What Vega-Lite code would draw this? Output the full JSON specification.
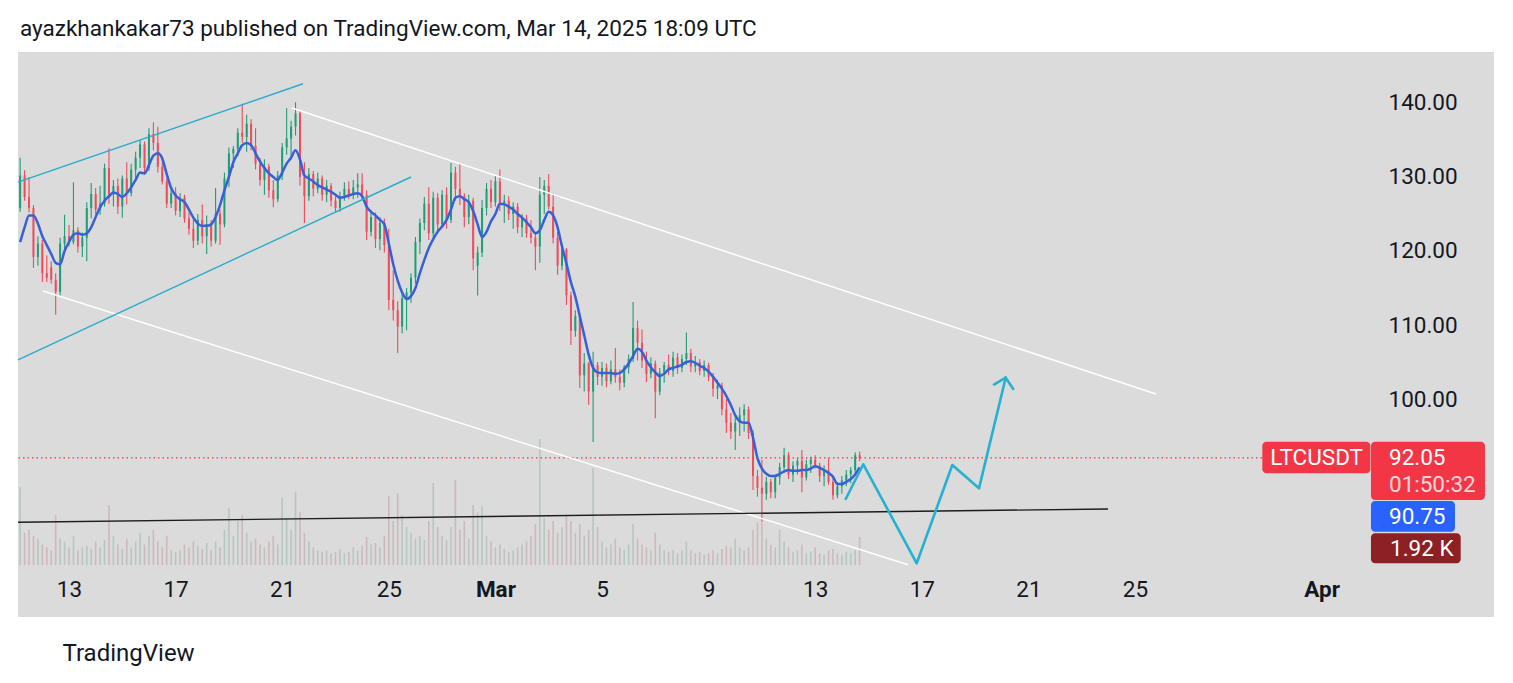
{
  "$schema": "https://vega.github.io/schema/vega-lite/v6.json",
  "description": "LTCUSDT 4h candles with channel drawings, TradingView snapshot",
  "width": 1352,
  "height": 513,
  "autosize": {"type": "none"},
  "padding": {"left": 18, "top": 52, "right": 143, "bottom": 118},
  "background": "#ffffff",
  "config": {"view": {"stroke": null}, "font": "Roboto"},
  "title": {
    "text": "ayazkhankakar73 published on TradingView.com, Mar 14, 2025 18:09 UTC",
    "anchor": "start",
    "frame": "group",
    "fontSize": 22.5,
    "fontWeight": "normal",
    "color": "#131722",
    "font": "Roboto",
    "offset": 12,
    "dx": 2
  },
  "datasets": {
    "bars": [
      {"t":"2025-02-11T04:00","o":125.8,"h":132.6,"l":125.3,"c":130.2,"v":5.3,"ma":121.2},
      {"t":"2025-02-11T08:00","o":130.2,"h":130.9,"l":126.8,"c":127.3,"v":2.2,"ma":123.2},
      {"t":"2025-02-11T12:00","o":127.3,"h":130.0,"l":125.2,"c":125.8,"v":2.4,"ma":124.8},
      {"t":"2025-02-11T16:00","o":125.8,"h":126.2,"l":117.7,"c":119.2,"v":2.0,"ma":124.8},
      {"t":"2025-02-11T20:00","o":119.2,"h":122.0,"l":118.0,"c":121.0,"v":1.8,"ma":123.7},
      {"t":"2025-02-12T00:00","o":121.0,"h":121.5,"l":115.8,"c":117.0,"v":1.4,"ma":122.0},
      {"t":"2025-02-12T04:00","o":117.0,"h":119.4,"l":115.8,"c":116.4,"v":1.2,"ma":120.8},
      {"t":"2025-02-12T08:00","o":117.8,"h":118.6,"l":115.6,"c":116.1,"v":1.0,"ma":119.6},
      {"t":"2025-02-12T12:00","o":116.1,"h":117.0,"l":111.4,"c":114.5,"v":3.4,"ma":118.4},
      {"t":"2025-02-12T16:00","o":114.5,"h":121.8,"l":114.0,"c":121.0,"v":1.8,"ma":118.2},
      {"t":"2025-02-12T20:00","o":121.0,"h":124.9,"l":120.2,"c":122.0,"v":1.6,"ma":120.0},
      {"t":"2025-02-13T00:00","o":122.0,"h":123.5,"l":120.6,"c":121.2,"v":1.2,"ma":121.2},
      {"t":"2025-02-13T04:00","o":121.2,"h":129.3,"l":120.9,"c":122.8,"v":2.0,"ma":122.2},
      {"t":"2025-02-13T08:00","o":122.8,"h":123.2,"l":119.8,"c":120.6,"v":1.0,"ma":122.4},
      {"t":"2025-02-13T12:00","o":120.6,"h":122.5,"l":119.2,"c":121.8,"v":1.2,"ma":122.2},
      {"t":"2025-02-13T16:00","o":121.8,"h":126.6,"l":118.6,"c":125.8,"v":1.3,"ma":122.4},
      {"t":"2025-02-13T20:00","o":125.8,"h":129.2,"l":124.4,"c":127.7,"v":1.1,"ma":123.2},
      {"t":"2025-02-14T00:00","o":127.7,"h":128.5,"l":125.0,"c":125.6,"v":1.6,"ma":124.6},
      {"t":"2025-02-14T04:00","o":125.6,"h":128.8,"l":124.9,"c":126.4,"v":1.2,"ma":125.9},
      {"t":"2025-02-14T08:00","o":126.4,"h":131.8,"l":126.0,"c":131.2,"v":1.7,"ma":126.8},
      {"t":"2025-02-14T12:00","o":131.2,"h":133.9,"l":126.4,"c":127.6,"v":4.1,"ma":127.4},
      {"t":"2025-02-14T16:00","o":127.6,"h":129.6,"l":126.0,"c":128.8,"v":2.0,"ma":127.9},
      {"t":"2025-02-14T20:00","o":128.8,"h":129.8,"l":125.0,"c":126.0,"v":1.4,"ma":127.7},
      {"t":"2025-02-15T00:00","o":126.0,"h":130.2,"l":124.5,"c":129.8,"v":1.1,"ma":127.3},
      {"t":"2025-02-15T04:00","o":129.8,"h":132.0,"l":126.3,"c":127.8,"v":1.8,"ma":127.8},
      {"t":"2025-02-15T08:00","o":127.8,"h":131.8,"l":127.4,"c":131.0,"v":1.2,"ma":128.6},
      {"t":"2025-02-15T12:00","o":131.0,"h":133.4,"l":129.4,"c":132.6,"v":1.6,"ma":129.6},
      {"t":"2025-02-15T16:00","o":132.6,"h":135.0,"l":131.2,"c":134.4,"v":2.2,"ma":130.6},
      {"t":"2025-02-15T20:00","o":134.4,"h":134.8,"l":130.3,"c":131.2,"v":1.4,"ma":130.5},
      {"t":"2025-02-16T00:00","o":131.2,"h":136.6,"l":130.8,"c":135.8,"v":2.0,"ma":131.6},
      {"t":"2025-02-16T04:00","o":135.8,"h":137.4,"l":133.6,"c":134.6,"v":2.4,"ma":132.9},
      {"t":"2025-02-16T08:00","o":134.6,"h":136.8,"l":130.6,"c":131.4,"v":1.6,"ma":133.2},
      {"t":"2025-02-16T12:00","o":131.4,"h":132.6,"l":129.0,"c":129.4,"v":1.2,"ma":132.5},
      {"t":"2025-02-16T16:00","o":129.4,"h":129.8,"l":125.8,"c":126.4,"v":2.0,"ma":130.4},
      {"t":"2025-02-16T20:00","o":126.4,"h":128.4,"l":125.8,"c":127.8,"v":1.0,"ma":128.5},
      {"t":"2025-02-17T00:00","o":127.8,"h":128.6,"l":124.8,"c":125.4,"v":0.9,"ma":127.5},
      {"t":"2025-02-17T04:00","o":125.4,"h":127.8,"l":124.6,"c":127.2,"v":1.0,"ma":127.0},
      {"t":"2025-02-17T08:00","o":127.2,"h":127.6,"l":123.8,"c":124.4,"v":1.4,"ma":126.6},
      {"t":"2025-02-17T12:00","o":124.4,"h":125.2,"l":122.2,"c":123.0,"v":1.2,"ma":125.6},
      {"t":"2025-02-17T16:00","o":123.0,"h":124.6,"l":120.4,"c":121.4,"v":1.6,"ma":124.5},
      {"t":"2025-02-17T20:00","o":121.4,"h":125.0,"l":120.8,"c":124.2,"v":1.3,"ma":123.7},
      {"t":"2025-02-18T00:00","o":124.2,"h":126.3,"l":121.0,"c":122.0,"v":1.1,"ma":123.4},
      {"t":"2025-02-18T04:00","o":122.0,"h":124.8,"l":119.6,"c":123.6,"v":1.5,"ma":123.4},
      {"t":"2025-02-18T08:00","o":123.6,"h":124.2,"l":120.6,"c":121.4,"v":1.0,"ma":123.6},
      {"t":"2025-02-18T12:00","o":121.4,"h":128.5,"l":121.0,"c":125.0,"v":1.6,"ma":124.6},
      {"t":"2025-02-18T16:00","o":125.0,"h":125.6,"l":120.8,"c":123.6,"v":1.2,"ma":126.2},
      {"t":"2025-02-18T20:00","o":123.6,"h":130.6,"l":123.2,"c":129.8,"v":2.4,"ma":128.2},
      {"t":"2025-02-19T00:00","o":129.8,"h":134.0,"l":128.6,"c":133.2,"v":3.9,"ma":130.0},
      {"t":"2025-02-19T04:00","o":133.2,"h":134.2,"l":131.2,"c":133.8,"v":2.0,"ma":132.0},
      {"t":"2025-02-19T08:00","o":133.8,"h":136.6,"l":132.8,"c":136.0,"v":3.0,"ma":133.2},
      {"t":"2025-02-19T12:00","o":136.0,"h":139.9,"l":134.6,"c":135.4,"v":3.4,"ma":134.3},
      {"t":"2025-02-19T16:00","o":135.4,"h":138.4,"l":133.4,"c":137.2,"v":2.2,"ma":134.6},
      {"t":"2025-02-19T20:00","o":137.2,"h":137.8,"l":133.6,"c":134.2,"v":1.6,"ma":134.3},
      {"t":"2025-02-20T00:00","o":134.2,"h":136.6,"l":131.0,"c":131.8,"v":1.8,"ma":133.2},
      {"t":"2025-02-20T04:00","o":131.8,"h":132.6,"l":128.8,"c":129.6,"v":1.4,"ma":132.1},
      {"t":"2025-02-20T08:00","o":129.6,"h":132.4,"l":127.6,"c":131.4,"v":1.2,"ma":131.2},
      {"t":"2025-02-20T12:00","o":131.4,"h":131.8,"l":127.2,"c":128.2,"v":1.6,"ma":130.5},
      {"t":"2025-02-20T16:00","o":128.2,"h":129.6,"l":125.9,"c":127.0,"v":2.0,"ma":130.0},
      {"t":"2025-02-20T20:00","o":127.0,"h":130.8,"l":126.6,"c":130.2,"v":1.4,"ma":129.6},
      {"t":"2025-02-21T00:00","o":130.2,"h":134.6,"l":129.6,"c":134.0,"v":4.6,"ma":130.6},
      {"t":"2025-02-21T04:00","o":134.0,"h":139.3,"l":133.0,"c":135.2,"v":3.2,"ma":131.8},
      {"t":"2025-02-21T08:00","o":135.2,"h":137.6,"l":132.4,"c":136.8,"v":2.4,"ma":132.6},
      {"t":"2025-02-21T12:00","o":136.8,"h":140.1,"l":135.6,"c":138.6,"v":5.0,"ma":133.6},
      {"t":"2025-02-21T16:00","o":138.6,"h":139.0,"l":128.8,"c":130.0,"v":3.6,"ma":132.4},
      {"t":"2025-02-21T20:00","o":130.0,"h":132.0,"l":123.8,"c":127.4,"v":2.2,"ma":130.2},
      {"t":"2025-02-22T00:00","o":127.4,"h":131.2,"l":126.8,"c":130.4,"v":1.6,"ma":129.8},
      {"t":"2025-02-22T04:00","o":130.4,"h":130.8,"l":127.4,"c":128.4,"v":1.2,"ma":129.4},
      {"t":"2025-02-22T08:00","o":128.4,"h":130.6,"l":127.8,"c":129.8,"v":1.0,"ma":128.9},
      {"t":"2025-02-22T12:00","o":129.8,"h":130.2,"l":126.8,"c":127.6,"v":0.9,"ma":128.6},
      {"t":"2025-02-22T16:00","o":127.6,"h":129.6,"l":126.6,"c":128.8,"v":1.0,"ma":128.3},
      {"t":"2025-02-22T20:00","o":128.8,"h":129.2,"l":126.0,"c":126.8,"v":0.8,"ma":128.0},
      {"t":"2025-02-23T00:00","o":126.8,"h":127.4,"l":125.3,"c":125.8,"v":0.9,"ma":127.6},
      {"t":"2025-02-23T04:00","o":125.8,"h":128.0,"l":125.3,"c":127.4,"v":1.1,"ma":127.2},
      {"t":"2025-02-23T08:00","o":127.4,"h":129.3,"l":126.8,"c":128.4,"v":0.8,"ma":127.3},
      {"t":"2025-02-23T12:00","o":128.4,"h":129.4,"l":127.0,"c":127.6,"v":0.9,"ma":127.5},
      {"t":"2025-02-23T16:00","o":127.6,"h":129.6,"l":127.0,"c":128.6,"v":1.2,"ma":127.7},
      {"t":"2025-02-23T20:00","o":128.6,"h":130.5,"l":127.2,"c":129.0,"v":1.0,"ma":127.8},
      {"t":"2025-02-24T00:00","o":129.0,"h":130.5,"l":126.9,"c":127.6,"v":1.3,"ma":127.4},
      {"t":"2025-02-24T04:00","o":127.6,"h":128.2,"l":121.5,"c":122.6,"v":1.9,"ma":126.0},
      {"t":"2025-02-24T08:00","o":122.6,"h":125.5,"l":122.0,"c":124.6,"v":1.4,"ma":125.3},
      {"t":"2025-02-24T12:00","o":124.6,"h":125.2,"l":120.4,"c":121.6,"v":1.5,"ma":124.8},
      {"t":"2025-02-24T16:00","o":121.6,"h":124.6,"l":120.1,"c":123.8,"v":1.2,"ma":124.2},
      {"t":"2025-02-24T20:00","o":123.8,"h":124.4,"l":119.8,"c":120.8,"v":2.0,"ma":123.6},
      {"t":"2025-02-25T00:00","o":120.8,"h":123.0,"l":112.0,"c":113.4,"v":4.7,"ma":121.0},
      {"t":"2025-02-25T04:00","o":113.4,"h":117.4,"l":110.6,"c":112.0,"v":3.0,"ma":118.2},
      {"t":"2025-02-25T08:00","o":112.0,"h":113.2,"l":106.2,"c":109.8,"v":4.9,"ma":116.0},
      {"t":"2025-02-25T12:00","o":109.8,"h":114.3,"l":108.9,"c":113.6,"v":3.4,"ma":114.4},
      {"t":"2025-02-25T16:00","o":113.6,"h":115.0,"l":109.3,"c":114.4,"v":2.6,"ma":113.5},
      {"t":"2025-02-25T20:00","o":114.4,"h":117.0,"l":113.0,"c":116.4,"v":2.2,"ma":113.9},
      {"t":"2025-02-26T00:00","o":116.4,"h":121.9,"l":115.6,"c":121.2,"v":1.8,"ma":115.0},
      {"t":"2025-02-26T04:00","o":121.2,"h":124.4,"l":119.6,"c":123.8,"v":2.0,"ma":117.0},
      {"t":"2025-02-26T08:00","o":123.8,"h":127.3,"l":122.8,"c":126.4,"v":1.7,"ma":118.8},
      {"t":"2025-02-26T12:00","o":126.4,"h":128.6,"l":121.5,"c":122.4,"v":3.0,"ma":120.4},
      {"t":"2025-02-26T16:00","o":122.4,"h":128.0,"l":121.8,"c":127.2,"v":5.6,"ma":121.6},
      {"t":"2025-02-26T20:00","o":127.2,"h":127.8,"l":122.6,"c":123.6,"v":2.6,"ma":122.6},
      {"t":"2025-02-27T00:00","o":123.6,"h":128.2,"l":123.2,"c":127.6,"v":2.0,"ma":123.3},
      {"t":"2025-02-27T04:00","o":127.6,"h":128.6,"l":123.0,"c":124.2,"v":1.7,"ma":124.2},
      {"t":"2025-02-27T08:00","o":124.2,"h":131.9,"l":123.8,"c":130.6,"v":2.6,"ma":125.6},
      {"t":"2025-02-27T12:00","o":130.6,"h":131.4,"l":126.8,"c":128.4,"v":5.8,"ma":127.2},
      {"t":"2025-02-27T16:00","o":128.4,"h":131.8,"l":126.2,"c":127.4,"v":2.4,"ma":127.4},
      {"t":"2025-02-27T20:00","o":127.4,"h":127.8,"l":123.2,"c":124.6,"v":3.0,"ma":127.0},
      {"t":"2025-02-28T00:00","o":124.6,"h":127.6,"l":123.6,"c":126.8,"v":1.8,"ma":126.6},
      {"t":"2025-02-28T04:00","o":126.8,"h":127.2,"l":117.4,"c":119.0,"v":4.1,"ma":125.4},
      {"t":"2025-02-28T08:00","o":118.0,"h":120.6,"l":114.0,"c":119.8,"v":3.6,"ma":123.6},
      {"t":"2025-02-28T12:00","o":119.8,"h":126.9,"l":119.2,"c":125.8,"v":4.0,"ma":121.9},
      {"t":"2025-02-28T16:00","o":125.8,"h":129.2,"l":124.8,"c":128.4,"v":2.0,"ma":122.6},
      {"t":"2025-02-28T20:00","o":128.4,"h":129.6,"l":125.8,"c":126.6,"v":1.6,"ma":124.0},
      {"t":"2025-03-01T00:00","o":126.6,"h":130.2,"l":126.0,"c":129.4,"v":1.2,"ma":125.0},
      {"t":"2025-03-01T04:00","o":129.4,"h":131.0,"l":125.4,"c":126.2,"v":1.4,"ma":126.4},
      {"t":"2025-03-01T08:00","o":126.2,"h":127.6,"l":123.8,"c":126.8,"v":1.1,"ma":126.3},
      {"t":"2025-03-01T12:00","o":126.8,"h":127.4,"l":124.2,"c":125.0,"v":0.9,"ma":126.0},
      {"t":"2025-03-01T16:00","o":125.0,"h":126.6,"l":123.0,"c":126.0,"v":1.0,"ma":125.6},
      {"t":"2025-03-01T20:00","o":126.0,"h":126.5,"l":122.4,"c":123.2,"v":1.2,"ma":125.0},
      {"t":"2025-03-02T00:00","o":123.2,"h":125.0,"l":121.9,"c":124.4,"v":1.4,"ma":124.5},
      {"t":"2025-03-02T04:00","o":124.4,"h":124.9,"l":121.8,"c":122.4,"v":1.6,"ma":123.9},
      {"t":"2025-03-02T08:00","o":122.4,"h":124.2,"l":121.0,"c":121.8,"v":2.0,"ma":123.2},
      {"t":"2025-03-02T12:00","o":121.8,"h":122.6,"l":117.4,"c":120.6,"v":2.8,"ma":122.4},
      {"t":"2025-03-02T16:00","o":120.6,"h":130.0,"l":118.4,"c":127.6,"v":8.6,"ma":122.8},
      {"t":"2025-03-02T20:00","o":127.6,"h":129.6,"l":125.0,"c":128.8,"v":3.2,"ma":124.2},
      {"t":"2025-03-03T00:00","o":128.8,"h":130.4,"l":125.6,"c":126.0,"v":2.4,"ma":125.3},
      {"t":"2025-03-03T04:00","o":126.0,"h":127.8,"l":121.0,"c":121.8,"v":3.0,"ma":124.8},
      {"t":"2025-03-03T08:00","o":121.8,"h":122.6,"l":116.8,"c":118.0,"v":2.2,"ma":123.2},
      {"t":"2025-03-03T12:00","o":118.0,"h":121.0,"l":117.4,"c":120.2,"v":2.6,"ma":120.6},
      {"t":"2025-03-03T16:00","o":120.2,"h":120.4,"l":112.7,"c":114.0,"v":3.4,"ma":118.3},
      {"t":"2025-03-03T20:00","o":114.0,"h":114.5,"l":107.3,"c":109.2,"v":3.0,"ma":115.8},
      {"t":"2025-03-04T00:00","o":109.2,"h":112.0,"l":108.4,"c":111.2,"v":2.2,"ma":113.8},
      {"t":"2025-03-04T04:00","o":111.2,"h":111.6,"l":101.5,"c":103.2,"v":2.8,"ma":111.2},
      {"t":"2025-03-04T08:00","o":103.2,"h":106.2,"l":101.0,"c":104.8,"v":2.0,"ma":108.6},
      {"t":"2025-03-04T12:00","o":104.8,"h":105.0,"l":99.2,"c":101.0,"v":2.4,"ma":106.0},
      {"t":"2025-03-04T16:00","o":101.0,"h":106.4,"l":94.2,"c":104.6,"v":6.6,"ma":104.2},
      {"t":"2025-03-04T20:00","o":104.6,"h":105.0,"l":101.9,"c":103.0,"v":2.6,"ma":103.6},
      {"t":"2025-03-05T00:00","o":103.0,"h":105.0,"l":101.8,"c":104.2,"v":1.6,"ma":103.5},
      {"t":"2025-03-05T04:00","o":104.2,"h":104.8,"l":101.6,"c":102.4,"v":1.2,"ma":103.5},
      {"t":"2025-03-05T08:00","o":102.4,"h":105.2,"l":102.0,"c":104.0,"v":1.4,"ma":103.5},
      {"t":"2025-03-05T12:00","o":104.0,"h":106.9,"l":102.2,"c":103.0,"v":1.8,"ma":103.4},
      {"t":"2025-03-05T16:00","o":103.0,"h":104.0,"l":101.2,"c":102.2,"v":1.2,"ma":103.5},
      {"t":"2025-03-05T20:00","o":102.2,"h":104.6,"l":101.6,"c":104.3,"v":1.0,"ma":104.0},
      {"t":"2025-03-06T00:00","o":104.3,"h":106.0,"l":103.4,"c":105.4,"v":1.4,"ma":104.8},
      {"t":"2025-03-06T04:00","o":105.4,"h":113.1,"l":105.0,"c":109.6,"v":2.8,"ma":105.8},
      {"t":"2025-03-06T08:00","o":109.6,"h":110.6,"l":105.2,"c":107.6,"v":1.8,"ma":106.8},
      {"t":"2025-03-06T12:00","o":107.6,"h":109.4,"l":104.2,"c":105.2,"v":1.4,"ma":106.4},
      {"t":"2025-03-06T16:00","o":105.2,"h":106.4,"l":102.3,"c":103.4,"v":1.2,"ma":105.2},
      {"t":"2025-03-06T20:00","o":103.4,"h":105.6,"l":102.8,"c":104.8,"v":1.0,"ma":104.3},
      {"t":"2025-03-07T00:00","o":104.8,"h":105.2,"l":97.4,"c":101.0,"v":2.2,"ma":103.6},
      {"t":"2025-03-07T04:00","o":101.0,"h":104.2,"l":100.5,"c":103.6,"v":1.4,"ma":103.1},
      {"t":"2025-03-07T08:00","o":103.6,"h":105.0,"l":102.2,"c":104.6,"v":1.0,"ma":103.4},
      {"t":"2025-03-07T12:00","o":104.6,"h":106.0,"l":103.2,"c":103.8,"v":0.9,"ma":104.0},
      {"t":"2025-03-07T16:00","o":103.8,"h":106.4,"l":103.0,"c":105.6,"v":1.0,"ma":104.2},
      {"t":"2025-03-07T20:00","o":105.6,"h":106.2,"l":103.4,"c":104.2,"v":0.8,"ma":104.4},
      {"t":"2025-03-08T00:00","o":104.2,"h":106.0,"l":103.6,"c":105.4,"v":1.0,"ma":104.6},
      {"t":"2025-03-08T04:00","o":105.4,"h":109.0,"l":104.6,"c":106.2,"v":1.6,"ma":105.0},
      {"t":"2025-03-08T08:00","o":106.2,"h":106.8,"l":103.6,"c":104.4,"v":1.0,"ma":105.1},
      {"t":"2025-03-08T12:00","o":104.4,"h":105.8,"l":103.6,"c":105.0,"v":0.8,"ma":104.9},
      {"t":"2025-03-08T16:00","o":105.0,"h":105.4,"l":103.2,"c":103.8,"v":0.9,"ma":104.5},
      {"t":"2025-03-08T20:00","o":103.8,"h":105.2,"l":103.0,"c":104.6,"v":0.7,"ma":104.2},
      {"t":"2025-03-09T00:00","o":104.6,"h":104.9,"l":102.4,"c":103.0,"v":0.8,"ma":103.7},
      {"t":"2025-03-09T04:00","o":103.0,"h":103.5,"l":100.3,"c":101.4,"v":1.0,"ma":103.0},
      {"t":"2025-03-09T08:00","o":101.4,"h":102.6,"l":100.0,"c":101.8,"v":0.8,"ma":102.2},
      {"t":"2025-03-09T12:00","o":101.8,"h":102.2,"l":97.8,"c":98.6,"v":1.1,"ma":101.4},
      {"t":"2025-03-09T16:00","o":98.6,"h":100.0,"l":95.4,"c":96.8,"v":1.3,"ma":100.4},
      {"t":"2025-03-09T20:00","o":96.8,"h":98.1,"l":94.6,"c":95.6,"v":1.2,"ma":99.2},
      {"t":"2025-03-10T00:00","o":95.6,"h":97.6,"l":93.1,"c":96.8,"v":1.8,"ma":97.8},
      {"t":"2025-03-10T04:00","o":96.8,"h":98.9,"l":95.0,"c":97.8,"v":1.2,"ma":97.0},
      {"t":"2025-03-10T08:00","o":97.8,"h":99.3,"l":95.6,"c":98.6,"v":1.0,"ma":96.8},
      {"t":"2025-03-10T12:00","o":98.6,"h":99.0,"l":94.6,"c":95.4,"v":1.2,"ma":96.8},
      {"t":"2025-03-10T16:00","o":95.4,"h":95.8,"l":87.7,"c":89.6,"v":2.4,"ma":94.8},
      {"t":"2025-03-10T20:00","o":89.6,"h":90.4,"l":86.8,"c":88.0,"v":2.9,"ma":92.0},
      {"t":"2025-03-11T00:00","o":88.0,"h":91.8,"l":83.4,"c":87.2,"v":2.9,"ma":90.6},
      {"t":"2025-03-11T04:00","o":87.2,"h":89.5,"l":86.4,"c":88.8,"v":1.8,"ma":89.9},
      {"t":"2025-03-11T08:00","o":88.8,"h":89.2,"l":86.6,"c":87.4,"v":1.4,"ma":89.6},
      {"t":"2025-03-11T12:00","o":87.4,"h":89.8,"l":86.6,"c":89.4,"v":1.2,"ma":89.6},
      {"t":"2025-03-11T16:00","o":89.4,"h":91.4,"l":88.4,"c":90.8,"v":2.4,"ma":89.9},
      {"t":"2025-03-11T20:00","o":90.8,"h":93.4,"l":90.2,"c":92.4,"v":1.6,"ma":90.2},
      {"t":"2025-03-12T00:00","o":92.4,"h":92.8,"l":89.2,"c":89.8,"v":1.2,"ma":90.4},
      {"t":"2025-03-12T04:00","o":89.8,"h":91.6,"l":88.8,"c":91.0,"v":0.9,"ma":90.3},
      {"t":"2025-03-12T08:00","o":91.0,"h":92.0,"l":89.8,"c":91.6,"v":1.0,"ma":90.3},
      {"t":"2025-03-12T12:00","o":91.6,"h":93.1,"l":87.4,"c":89.4,"v":1.4,"ma":90.4},
      {"t":"2025-03-12T16:00","o":89.4,"h":91.8,"l":89.0,"c":91.2,"v":0.8,"ma":90.4},
      {"t":"2025-03-12T20:00","o":91.2,"h":92.2,"l":90.0,"c":91.8,"v":0.9,"ma":90.6},
      {"t":"2025-03-13T00:00","o":91.8,"h":92.4,"l":90.6,"c":91.0,"v":1.2,"ma":90.9},
      {"t":"2025-03-13T04:00","o":91.0,"h":91.4,"l":88.8,"c":89.6,"v":0.8,"ma":90.7},
      {"t":"2025-03-13T08:00","o":89.6,"h":91.0,"l":88.2,"c":90.4,"v":0.7,"ma":90.4},
      {"t":"2025-03-13T12:00","o":90.4,"h":92.0,"l":88.4,"c":88.8,"v":1.0,"ma":90.0},
      {"t":"2025-03-13T16:00","o":88.8,"h":89.4,"l":86.4,"c":87.0,"v":1.1,"ma":89.5},
      {"t":"2025-03-13T20:00","o":87.0,"h":88.8,"l":86.6,"c":88.2,"v":0.8,"ma":88.5},
      {"t":"2025-03-14T00:00","o":88.2,"h":89.6,"l":87.2,"c":89.0,"v":0.7,"ma":88.5},
      {"t":"2025-03-14T04:00","o":89.0,"h":90.4,"l":88.2,"c":89.8,"v":0.9,"ma":88.8},
      {"t":"2025-03-14T08:00","o":89.8,"h":90.8,"l":88.6,"c":90.4,"v":0.8,"ma":89.2},
      {"t":"2025-03-14T12:00","o":90.4,"h":92.8,"l":90.0,"c":92.4,"v":1.0,"ma":89.8},
      {"t":"2025-03-14T16:00","o":92.4,"h":92.9,"l":91.6,"c":92.05,"v":1.92,"ma":90.75}
    ],
    "drawings": [
      {"id":"c1","t":"2025-02-11T02:04","p":129.3},
      {"id":"c1","t":"2025-02-21T18:43","p":142.6},
      {"id":"c2","t":"2025-02-11T02:04","p":105.3},
      {"id":"c2","t":"2025-02-25T20:00","p":130.0},
      {"id":"w1","t":"2025-02-21T08:50","p":139.32},
      {"id":"w1","t":"2025-03-25T18:55","p":100.68},
      {"id":"w2","t":"2025-02-12T00:35","p":114.59},
      {"id":"w2","t":"2025-03-16T11:34","p":77.6},
      {"id":"b1","t":"2025-02-11T02:04","p":83.35},
      {"id":"b1","t":"2025-03-23T23:41","p":85.14},
      {"id":"p","t":"2025-03-14T03:29","p":86.49},
      {"id":"p","t":"2025-03-14T19:19","p":91.18},
      {"id":"p","t":"2025-03-16T19:25","p":77.8},
      {"id":"p","t":"2025-03-18T03:29","p":91.08},
      {"id":"p","t":"2025-03-19T03:30","p":87.93},
      {"id":"p","t":"2025-03-20T03:33","p":102.88},
      {"id":"a1","t":"2025-03-19T17:01","p":101.96},
      {"id":"a1","t":"2025-03-20T03:33","p":102.88},
      {"id":"a2","t":"2025-03-20T03:33","p":102.88},
      {"id":"a2","t":"2025-03-20T10:23","p":101.35}
    ]
  },
  "resolve": {"scale": {"y": "independent"}},
  "layer": [
    {
      "data": {"values": [{}]},
      "mark": {"type": "rect", "color": "#dbdbdb", "clip": false},
      "encoding": {
        "x": {"datum": {"year": 2025, "month": 2, "date": 11, "hours": 2, "minutes": 4}, "type": "temporal", "scale": {"domain": [{"year": 2025, "month": 2, "date": 11, "hours": 2, "minutes": 4}, {"year": 2025, "month": 4, "date": 2, "hours": 19, "minutes": 38}], "nice": false}},
        "x2": {"datum": {"year": 2025, "month": 4, "date": 7, "hours": 11, "minutes": 18}},
        "y": {"datum": 146.89, "type": "quantitative", "scale": {"domain": [77.57, 146.89], "nice": false, "zero": false}, "axis": null},
        "y2": {"datum": 70.54}
      }
    },
    {
      "data": {"name": "bars"},
      "mark": {"type": "rule", "strokeWidth": 1.6},
      "encoding": {
        "x": {"field": "t", "type": "temporal", "scale": {"domain": [{"year": 2025, "month": 2, "date": 11, "hours": 2, "minutes": 4}, {"year": 2025, "month": 4, "date": 2, "hours": 19, "minutes": 38}], "nice": false}},
        "y": {"field": "v", "type": "quantitative", "scale": {"domain": [0, 35], "nice": false}, "axis": null},
        "y2": {"datum": 0},
        "color": {"condition": {"test": "datum.c >= datum.o", "value": "#b6c6c1"}, "value": "#ccb9bb"}
      }
    },
    {
      "data": {"name": "bars"},
      "mark": {"type": "rule", "strokeWidth": 1.1},
      "encoding": {
        "x": {
          "field": "t", "type": "temporal",
          "scale": {"domain": [{"year": 2025, "month": 2, "date": 11, "hours": 2, "minutes": 4}, {"year": 2025, "month": 4, "date": 2, "hours": 19, "minutes": 38}], "nice": false},
          "axis": {
            "values": [
              {"year": 2025, "month": 2, "date": 13}, {"year": 2025, "month": 2, "date": 17},
              {"year": 2025, "month": 2, "date": 21}, {"year": 2025, "month": 2, "date": 25},
              {"year": 2025, "month": 3, "date": 1}, {"year": 2025, "month": 3, "date": 5},
              {"year": 2025, "month": 3, "date": 9}, {"year": 2025, "month": 3, "date": 13},
              {"year": 2025, "month": 3, "date": 17}, {"year": 2025, "month": 3, "date": 21},
              {"year": 2025, "month": 3, "date": 25}, {"year": 2025, "month": 4, "date": 1}
            ],
            "labelExpr": "date(datum.value) == 1 ? timeFormat(datum.value, '%b') : timeFormat(datum.value, '%-d')",
            "labelFontSize": 22.5,
            "labelColor": "#131722",
            "labelFontWeight": {"condition": {"test": "date(datum.value) == 1", "value": "bold"}, "value": "normal"},
            "labelPadding": 13,
            "labelOverlap": false,
            "labelFlush": false,
            "domain": false,
            "ticks": false,
            "grid": false,
            "zindex": 1,
            "title": "TradingView",
            "titleX": 44,
            "titleY": 95,
            "titleAlign": "left",
            "titleAnchor": "start",
            "titleBaseline": "alphabetic",
            "titleFontSize": 24,
            "titleFontWeight": "normal",
            "titleColor": "#131722"
          }
        },
        "y": {
          "field": "l", "type": "quantitative",
          "scale": {"domain": [77.57, 146.89], "nice": false, "zero": false},
          "axis": {
            "orient": "right",
            "values": [100, 110, 120, 130, 140],
            "format": ".2f",
            "labelFontSize": 22.5,
            "labelColor": "#131722",
            "labelPadding": 18,
            "labelAlign": "left",
            "domain": false,
            "ticks": false,
            "grid": false,
            "title": null,
            "zindex": 1
          }
        },
        "y2": {"field": "h"},
        "color": {"condition": {"test": "datum.c >= datum.o", "value": "#1f9d78"}, "value": "#ee4b5b"}
      }
    },
    {
      "data": {"name": "bars"},
      "mark": {"type": "rule", "strokeWidth": 2.0},
      "encoding": {
        "x": {"field": "t", "type": "temporal", "scale": {"domain": [{"year": 2025, "month": 2, "date": 11, "hours": 2, "minutes": 4}, {"year": 2025, "month": 4, "date": 2, "hours": 19, "minutes": 38}], "nice": false}},
        "y": {"field": "o", "type": "quantitative", "scale": {"domain": [77.57, 146.89], "nice": false, "zero": false}, "axis": null},
        "y2": {"field": "c"},
        "color": {"condition": {"test": "datum.c >= datum.o", "value": "#1f9d78"}, "value": "#ee4b5b"}
      }
    },
    {
      "data": {"name": "bars"},
      "mark": {"type": "line", "color": "#3660d8", "strokeWidth": 2.5, "interpolate": "monotone"},
      "encoding": {
        "x": {"field": "t", "type": "temporal", "scale": {"domain": [{"year": 2025, "month": 2, "date": 11, "hours": 2, "minutes": 4}, {"year": 2025, "month": 4, "date": 2, "hours": 19, "minutes": 38}], "nice": false}},
        "y": {"field": "ma", "type": "quantitative", "scale": {"domain": [77.57, 146.89], "nice": false, "zero": false}, "axis": null}
      }
    },
    {
      "data": {"values": [{}]},
      "mark": {"type": "rule", "color": "#f23645", "strokeWidth": 1.2, "strokeDash": [1.5, 3]},
      "encoding": {
        "y": {"datum": 92.05, "type": "quantitative", "scale": {"domain": [77.57, 146.89], "nice": false, "zero": false}, "axis": null}
      }
    },
    {
      "data": {"name": "drawings"},
      "transform": [{"filter": {"field": "id", "oneOf": ["w1", "w2"]}}],
      "mark": {"type": "line", "color": "#ffffff", "strokeWidth": 1.5},
      "encoding": {
        "x": {"field": "t", "type": "temporal", "scale": {"domain": [{"year": 2025, "month": 2, "date": 11, "hours": 2, "minutes": 4}, {"year": 2025, "month": 4, "date": 2, "hours": 19, "minutes": 38}], "nice": false}},
        "y": {"field": "p", "type": "quantitative", "scale": {"domain": [77.57, 146.89], "nice": false, "zero": false}, "axis": null},
        "detail": {"field": "id"}
      }
    },
    {
      "data": {"name": "drawings"},
      "transform": [{"filter": {"field": "id", "oneOf": ["c1", "c2"]}}],
      "mark": {"type": "line", "color": "#2aaccb", "strokeWidth": 1.4},
      "encoding": {
        "x": {"field": "t", "type": "temporal", "scale": {"domain": [{"year": 2025, "month": 2, "date": 11, "hours": 2, "minutes": 4}, {"year": 2025, "month": 4, "date": 2, "hours": 19, "minutes": 38}], "nice": false}},
        "y": {"field": "p", "type": "quantitative", "scale": {"domain": [77.57, 146.89], "nice": false, "zero": false}, "axis": null},
        "detail": {"field": "id"}
      }
    },
    {
      "data": {"name": "drawings"},
      "transform": [{"filter": {"field": "id", "equal": "b1"}}],
      "mark": {"type": "line", "color": "#1c1c1c", "strokeWidth": 1.4},
      "encoding": {
        "x": {"field": "t", "type": "temporal", "scale": {"domain": [{"year": 2025, "month": 2, "date": 11, "hours": 2, "minutes": 4}, {"year": 2025, "month": 4, "date": 2, "hours": 19, "minutes": 38}], "nice": false}},
        "y": {"field": "p", "type": "quantitative", "scale": {"domain": [77.57, 146.89], "nice": false, "zero": false}, "axis": null}
      }
    },
    {
      "data": {"name": "drawings"},
      "transform": [{"filter": {"field": "id", "oneOf": ["p", "a1", "a2"]}}],
      "mark": {"type": "line", "color": "#27b1d0", "strokeWidth": 2.6, "strokeCap": "round", "strokeJoin": "round"},
      "encoding": {
        "x": {"field": "t", "type": "temporal", "scale": {"domain": [{"year": 2025, "month": 2, "date": 11, "hours": 2, "minutes": 4}, {"year": 2025, "month": 4, "date": 2, "hours": 19, "minutes": 38}], "nice": false}},
        "y": {"field": "p", "type": "quantitative", "scale": {"domain": [77.57, 146.89], "nice": false, "zero": false}, "axis": null},
        "detail": {"field": "id"}
      }
    },
    {
      "data": {"values": [{}]},
      "mark": {"type": "rect", "color": "#f23645", "cornerRadius": 4, "clip": false},
      "encoding": {
        "x": {"datum": {"year": 2025, "month": 3, "date": 29, "hours": 18, "minutes": 39}, "type": "temporal", "scale": {"domain": [{"year": 2025, "month": 2, "date": 11, "hours": 2, "minutes": 4}, {"year": 2025, "month": 4, "date": 2, "hours": 19, "minutes": 38}], "nice": false}},
        "x2": {"datum": {"year": 2025, "month": 4, "date": 2, "hours": 20, "minutes": 0}},
        "y": {"datum": 94.23, "type": "quantitative", "scale": {"domain": [77.57, 146.89], "nice": false, "zero": false}, "axis": null},
        "y2": {"datum": 89.96}
      }
    },
    {
      "data": {"values": [{}]},
      "mark": {"type": "rect", "color": "#f23645", "cornerRadius": 4, "clip": false},
      "encoding": {
        "x": {"datum": {"year": 2025, "month": 4, "date": 2, "hours": 20, "minutes": 31}, "type": "temporal", "scale": {"domain": [{"year": 2025, "month": 2, "date": 11, "hours": 2, "minutes": 4}, {"year": 2025, "month": 4, "date": 2, "hours": 19, "minutes": 38}], "nice": false}},
        "x2": {"datum": {"year": 2025, "month": 4, "date": 7, "hours": 3, "minutes": 10}},
        "y": {"datum": 94.23, "type": "quantitative", "scale": {"domain": [77.57, 146.89], "nice": false, "zero": false}, "axis": null},
        "y2": {"datum": 86.35}
      }
    },
    {
      "data": {"values": [{}]},
      "mark": {"type": "rect", "color": "#2962ff", "cornerRadius": 4, "clip": false},
      "encoding": {
        "x": {"datum": {"year": 2025, "month": 4, "date": 2, "hours": 20, "minutes": 31}, "type": "temporal", "scale": {"domain": [{"year": 2025, "month": 2, "date": 11, "hours": 2, "minutes": 4}, {"year": 2025, "month": 4, "date": 2, "hours": 19, "minutes": 38}], "nice": false}},
        "x2": {"datum": {"year": 2025, "month": 4, "date": 6, "hours": 0, "minutes": 10}},
        "y": {"datum": 86.22, "type": "quantitative", "scale": {"domain": [77.57, 146.89], "nice": false, "zero": false}, "axis": null},
        "y2": {"datum": 82.07}
      }
    },
    {
      "data": {"values": [{}]},
      "mark": {"type": "rect", "color": "#8c2024", "cornerRadius": 4, "clip": false},
      "encoding": {
        "x": {"datum": {"year": 2025, "month": 4, "date": 2, "hours": 20, "minutes": 31}, "type": "temporal", "scale": {"domain": [{"year": 2025, "month": 2, "date": 11, "hours": 2, "minutes": 4}, {"year": 2025, "month": 4, "date": 2, "hours": 19, "minutes": 38}], "nice": false}},
        "x2": {"datum": {"year": 2025, "month": 4, "date": 6, "hours": 5, "minutes": 18}},
        "y": {"datum": 81.85, "type": "quantitative", "scale": {"domain": [77.57, 146.89], "nice": false, "zero": false}, "axis": null},
        "y2": {"datum": 77.8}
      }
    },
    {
      "data": {"values": [{}]},
      "mark": {"type": "text", "color": "#ffffff", "fontSize": 22.5, "align": "center", "baseline": "middle", "clip": false},
      "encoding": {
        "x": {"datum": {"year": 2025, "month": 3, "date": 31, "hours": 19, "minutes": 36}, "type": "temporal", "scale": {"domain": [{"year": 2025, "month": 2, "date": 11, "hours": 2, "minutes": 4}, {"year": 2025, "month": 4, "date": 2, "hours": 19, "minutes": 38}], "nice": false}},
        "y": {"datum": 92.0, "type": "quantitative", "scale": {"domain": [77.57, 146.89], "nice": false, "zero": false}, "axis": null},
        "text": {"value": "LTCUSDT"}
      }
    },
    {
      "data": {"values": [{}]},
      "mark": {"type": "text", "color": "#ffffff", "fontSize": 22.5, "align": "left", "baseline": "middle", "dx": 18, "clip": false},
      "encoding": {
        "x": {"datum": {"year": 2025, "month": 4, "date": 2, "hours": 20, "minutes": 31}, "type": "temporal", "scale": {"domain": [{"year": 2025, "month": 2, "date": 11, "hours": 2, "minutes": 4}, {"year": 2025, "month": 4, "date": 2, "hours": 19, "minutes": 38}], "nice": false}},
        "y": {"datum": 92.0, "type": "quantitative", "scale": {"domain": [77.57, 146.89], "nice": false, "zero": false}, "axis": null},
        "text": {"value": "92.05"}
      }
    },
    {
      "data": {"values": [{}]},
      "mark": {"type": "text", "color": "#ffffff", "opacity": 0.8, "fontSize": 22.5, "align": "left", "baseline": "middle", "dx": 18, "clip": false},
      "encoding": {
        "x": {"datum": {"year": 2025, "month": 4, "date": 2, "hours": 20, "minutes": 31}, "type": "temporal", "scale": {"domain": [{"year": 2025, "month": 2, "date": 11, "hours": 2, "minutes": 4}, {"year": 2025, "month": 4, "date": 2, "hours": 19, "minutes": 38}], "nice": false}},
        "y": {"datum": 88.38, "type": "quantitative", "scale": {"domain": [77.57, 146.89], "nice": false, "zero": false}, "axis": null},
        "text": {"value": "01:50:32"}
      }
    },
    {
      "data": {"values": [{}]},
      "mark": {"type": "text", "color": "#ffffff", "fontSize": 22.5, "align": "left", "baseline": "middle", "dx": 18, "clip": false},
      "encoding": {
        "x": {"datum": {"year": 2025, "month": 4, "date": 2, "hours": 20, "minutes": 31}, "type": "temporal", "scale": {"domain": [{"year": 2025, "month": 2, "date": 11, "hours": 2, "minutes": 4}, {"year": 2025, "month": 4, "date": 2, "hours": 19, "minutes": 38}], "nice": false}},
        "y": {"datum": 84.09, "type": "quantitative", "scale": {"domain": [77.57, 146.89], "nice": false, "zero": false}, "axis": null},
        "text": {"value": "90.75"}
      }
    },
    {
      "data": {"values": [{}]},
      "mark": {"type": "text", "color": "#ffffff", "fontSize": 22.5, "align": "left", "baseline": "middle", "dx": 19, "clip": false},
      "encoding": {
        "x": {"datum": {"year": 2025, "month": 4, "date": 2, "hours": 20, "minutes": 31}, "type": "temporal", "scale": {"domain": [{"year": 2025, "month": 2, "date": 11, "hours": 2, "minutes": 4}, {"year": 2025, "month": 4, "date": 2, "hours": 19, "minutes": 38}], "nice": false}},
        "y": {"datum": 79.75, "type": "quantitative", "scale": {"domain": [77.57, 146.89], "nice": false, "zero": false}, "axis": null},
        "text": {"value": "1.92 K"}
      }
    }
  ]
}
